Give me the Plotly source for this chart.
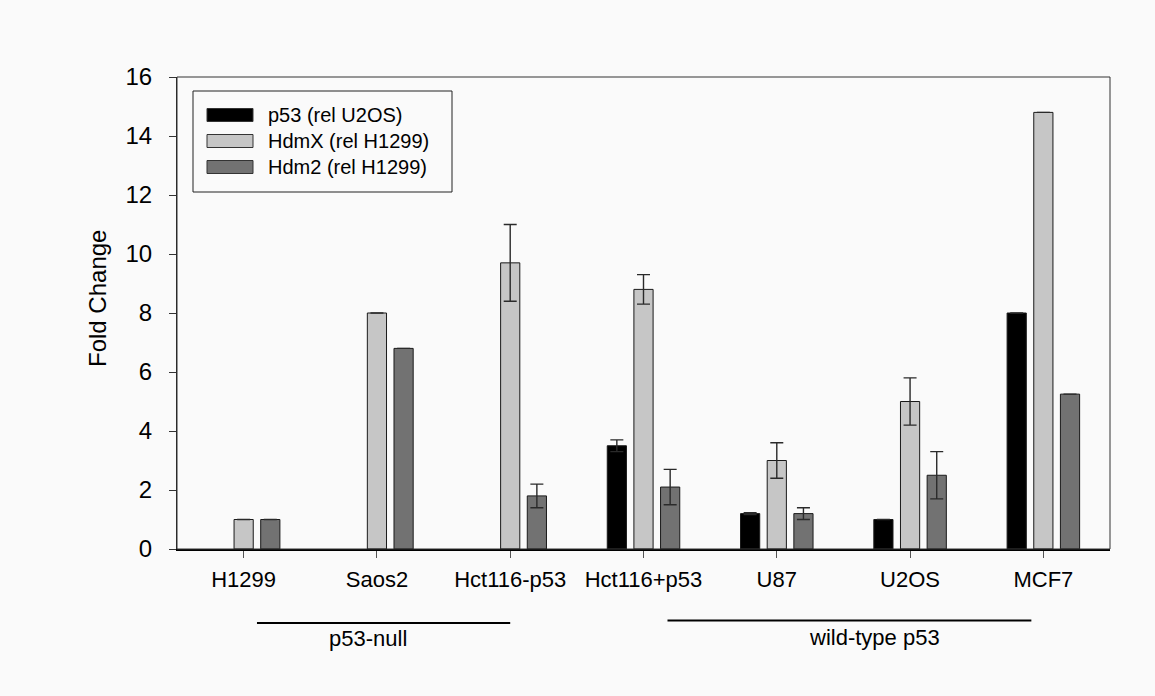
import plotly.graph_objects as go

# ---- data -------------------------------------------------------------
cell_lines = ["H1299", "Saos2", "Hct116-p53", "Hct116+p53", "U87", "U2OS", "MCF7"]

series_names = ["p53 (rel U2OS)", "HdmX (rel H1299)", "Hdm2 (rel H1299)"]
series_colors = ["#000000", "#c6c6c6", "#727272"]

p53_fold = [None, None, None, 3.5, 1.2, 1.0, 8.0]
p53_err = [0, 0, 0, 0.2, 0.03, 0, 0]

hdmx_fold = [1.0, 8.0, 9.7, 8.8, 3.0, 5.0, 14.8]
hdmx_err = [0, 0, 1.3, 0.5, 0.6, 0.8, 0]

hdm2_fold = [1.0, 6.8, 1.8, 2.1, 1.2, 2.5, 5.25]
hdm2_err = [0, 0, 0.4, 0.6, 0.2, 0.8, 0]

group_labels = ["p53-null", "wild-type p53"]

# ---- layout geometry (pixels) -----------------------------------------
W, H = 1155, 696
L, R, T, B = 177, 45, 77, 147
PW, PH = W - L - R, H - T - B
BG = "#fafafa"
FONT = "Liberation Sans, Arial, sans-serif"


def px_x(x):
    return (x - L) / PW


def px_y(y):
    return (H - B - y) / PH


fig = go.Figure()

values = [p53_fold, hdmx_fold, hdm2_fold]
errors = [p53_err, hdmx_err, hdm2_err]
for name, color, vals, errs in zip(series_names, series_colors, values, errors):
    fig.add_trace(go.Bar(
        x=cell_lines,
        y=vals,
        name=name,
        marker=dict(color=color, line=dict(color="#1a1a1a", width=1)),
        error_y=dict(type="data", array=errs, visible=True,
                     color="#2a2a2a", thickness=1.4, width=6.5),
        showlegend=False,
    ))

shapes = []
annotations = []

# plot frame
shapes.append(dict(type="rect", xref="paper", yref="paper", x0=0, x1=1, y0=0, y1=1,
                   line=dict(color="#333333", width=1), layer="above"))

# legend box with swatches
shapes.append(dict(type="rect", xref="paper", yref="paper",
                   x0=px_x(193), x1=px_x(452), y0=px_y(192), y1=px_y(91),
                   line=dict(color="#222222", width=1), fillcolor=BG, layer="above"))
row_y = [115, 141, 167]
for name, color, ry in zip(series_names, series_colors, row_y):
    shapes.append(dict(type="rect", xref="paper", yref="paper",
                       x0=px_x(207), x1=px_x(253), y0=px_y(ry + 6.5), y1=px_y(ry - 6.5),
                       line=dict(color="#333333", width=1), fillcolor=color, layer="above"))
    annotations.append(dict(text=name, xref="paper", yref="paper",
                            x=px_x(266), y=px_y(ry), xanchor="left", yanchor="middle",
                            showarrow=False, font=dict(family=FONT, size=20, color="#000000")))

# group brackets under the categories
group_spans = [(0.1, 2.0, 0.93, 623, 638), (3.18, 5.91, 4.73, 620.5, 637)]
for label, (x0, x1, xt, ly, ty) in zip(group_labels, group_spans):
    shapes.append(dict(type="line", xref="x", yref="paper", x0=x0, x1=x1,
                       y0=px_y(ly), y1=px_y(ly), line=dict(color="#000000", width=2)))
    annotations.append(dict(text=label, xref="x", yref="paper", x=xt, y=px_y(ty),
                            xanchor="center", yanchor="middle", showarrow=False,
                            font=dict(family=FONT, size=22, color="#000000")))

# y-axis title
annotations.append(dict(text="Fold Change", xref="paper", yref="paper",
                        x=px_x(97), y=px_y(299), xanchor="center", yanchor="middle",
                        textangle=-90, showarrow=False,
                        font=dict(family=FONT, size=24, color="#000000")))

fig.update_layout(
    width=W, height=H,
    margin=dict(l=L, r=R, t=T, b=B, pad=0),
    paper_bgcolor=BG, plot_bgcolor=BG,
    barmode="group", bargap=0.4, bargroupgap=0.28,
    font=dict(family=FONT, color="#000000"),
    shapes=shapes, annotations=annotations,
    xaxis=dict(
        type="category", categoryorder="array", categoryarray=cell_lines,
        range=[-0.5, 6.5], showgrid=False, zeroline=False,
        showline=True, linecolor="#000000", linewidth=2,
        ticks="outside", ticklen=7, tickwidth=1, tickcolor="#555555",
        tickfont=dict(family=FONT, size=22, color="#000000"),
        ticklabelstandoff=3,
    ),
    yaxis=dict(
        range=[0, 16], dtick=2, showgrid=False, zeroline=False,
        showline=True, linecolor="#222222", linewidth=1,
        ticks="outside", ticklen=7, tickwidth=1, tickcolor="#333333",
        tickfont=dict(family=FONT, size=24, color="#000000"),
        ticklabelstandoff=12,
    ),
)

fig.write_html("out.html")
